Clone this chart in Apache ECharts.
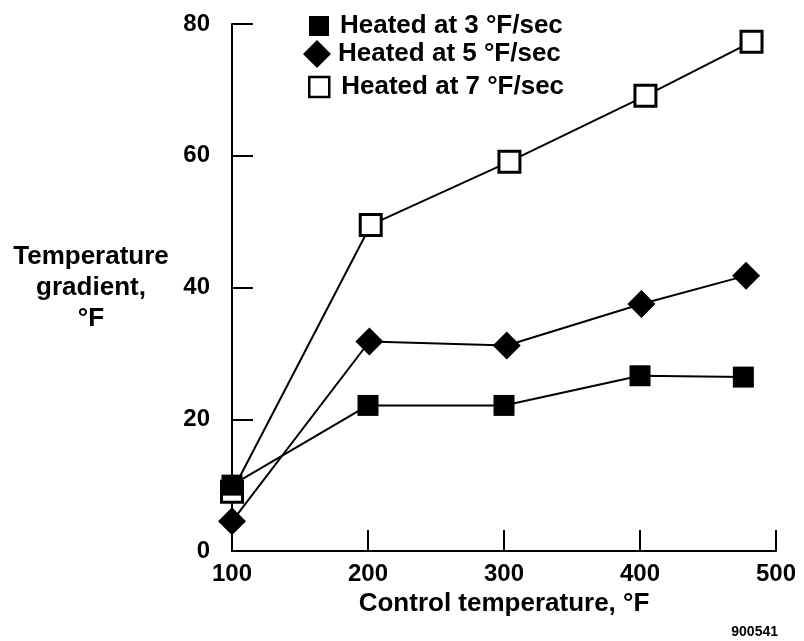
<!doctype html>
<html lang="en">
<head>
    <meta charset="utf-8">
    <title>Temperature gradient</title>
    <script src="https://cdn.jsdelivr.net/npm/echarts@6/dist/echarts.min.js"></script>
    <style>
        html, body { margin: 0; padding: 0; background: #fff; }
        #main { width: 804px; height: 641px; }
    </style>
</head>
<body>
<div id="main"></div>
<script>
    // values
    const seriesNames = ['Heated at 3 °F/sec', 'Heated at 5 °F/sec', 'Heated at 7 °F/sec'];
    const xHeat3 = [100, 200, 300, 400, 476];
    const yHeat3 = [10, 22.1, 22.1, 26.6, 26.4];
    const xHeat5 = [100, 201, 302, 401, 478];
    const yHeat5 = [4.5, 31.8, 31.2, 37.5, 41.8];
    const xHeat7 = [100, 202, 304, 404, 482];
    const yHeat7 = [9, 49.5, 59.1, 69.1, 77.3];
    const xTicks = [100, 500, 100];   // min, max, step
    const yTicks = [0, 80, 20];

    const FONT = '"Liberation Sans", Arial, Helvetica, sans-serif';
    const pairs = (xs, ys) => xs.map((x, i) => [x, ys[i]]);

    const lineBase = {
        type: 'line',
        silent: true,
        animation: false,
        lineStyle: {color: '#000', width: 2},
        emphasis: {disabled: true}
    };

    const legendText = (lh, padLeft) => ({
        fontFamily: FONT, fontWeight: 'bold', fontSize: 26, color: '#000',
        lineHeight: lh, padding: [0, 0, 0, padLeft]
    });

    const chart = echarts.init(document.getElementById('main'));
    chart.setOption({
        animation: false,
        grid: {left: 232, right: 28, top: 24, bottom: 90},
        legend: [
            {
                data: [{name: seriesNames[0], icon: 'rect'}],
                left: 309, top: 13, padding: 0,
                itemWidth: 20, itemHeight: 20,
                itemStyle: {color: '#000', borderWidth: 0},
                textStyle: legendText(20, 6),
                selectedMode: false
            },
            {
                data: [{name: seriesNames[1], icon: 'diamond'}],
                left: 303, top: 40, padding: 0,
                itemWidth: 28, itemHeight: 28,
                itemStyle: {color: '#000', borderWidth: 0},
                textStyle: legendText(28, 2),
                selectedMode: false
            },
            {
                data: [{name: seriesNames[2], icon: 'rect'}],
                left: 308, top: 74, padding: 0,
                itemWidth: 20, itemHeight: 20,
                itemStyle: {color: '#fff', borderColor: '#000', borderWidth: 2.5},
                textStyle: legendText(20, 7),
                selectedMode: false
            }
        ],
        xAxis: {
            type: 'value',
            min: xTicks[0], max: xTicks[1], interval: xTicks[2],
            name: 'Control temperature, °F',
            nameLocation: 'middle',
            nameGap: 51,
            nameTextStyle: {fontFamily: FONT, fontWeight: 'bold', fontSize: 26, color: '#000', verticalAlign: 'middle'},
            axisLine: {lineStyle: {color: '#000', width: 2}},
            axisTick: {inside: true, length: 21, lineStyle: {color: '#000', width: 2}},
            splitLine: {show: false},
            axisLabel: {fontFamily: FONT, fontWeight: 'bold', fontSize: 24, color: '#000', margin: 11}
        },
        yAxis: {
            type: 'value',
            min: yTicks[0], max: yTicks[1], interval: yTicks[2],
            name: 'Temperature\ngradient,\n°F',
            nameLocation: 'middle',
            nameRotate: 0,
            nameGap: 141,
            nameTextStyle: {fontFamily: FONT, fontWeight: 'bold', fontSize: 26, color: '#000', align: 'center', verticalAlign: 'middle', lineHeight: 31},
            axisLine: {lineStyle: {color: '#000', width: 2}},
            axisTick: {inside: true, length: 21, lineStyle: {color: '#000', width: 2}},
            splitLine: {show: false},
            axisLabel: {fontFamily: FONT, fontWeight: 'bold', fontSize: 24, color: '#000', margin: 22}
        },
        series: [
            // open squares first so the filled square sits on top at 100 °F
            Object.assign({}, lineBase, {
                name: seriesNames[2],
                data: pairs(xHeat7, yHeat7),
                symbol: 'rect', symbolSize: 21,
                itemStyle: {color: '#fff', borderColor: '#000', borderWidth: 3}
            }),
            Object.assign({}, lineBase, {
                name: seriesNames[1],
                data: pairs(xHeat5, yHeat5),
                symbol: 'diamond', symbolSize: 28,
                itemStyle: {color: '#000'}
            }),
            Object.assign({}, lineBase, {
                name: seriesNames[0],
                data: pairs(xHeat3, yHeat3),
                symbol: 'rect', symbolSize: 21,
                itemStyle: {color: '#000'}
            })
        ],
        graphic: [{
            type: 'text',
            right: 26, top: 625,
            style: {text: '900541', font: 'bold 14px ' + FONT, fill: '#000'}
        }]
    });
</script>
</body>
</html>
